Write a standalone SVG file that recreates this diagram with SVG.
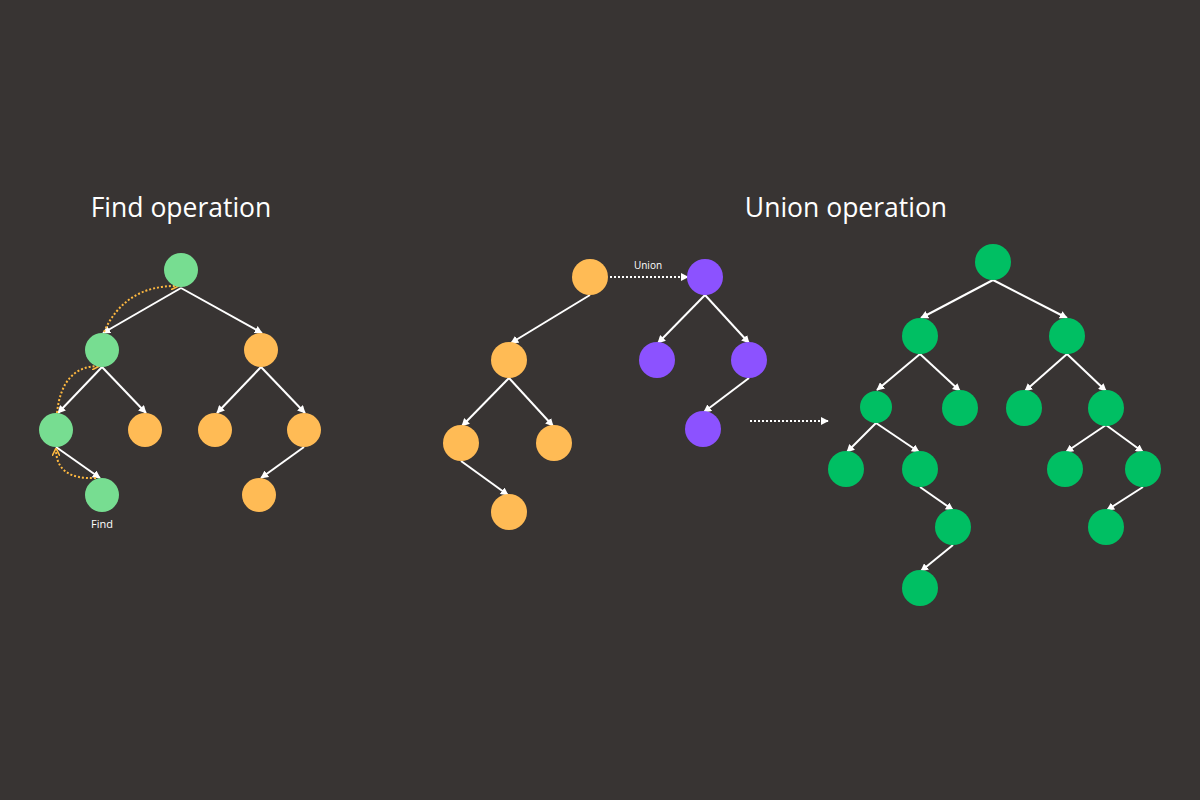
<svg xmlns="http://www.w3.org/2000/svg" width="1200" height="800" viewBox="0 0 1200 800">
<style>
.t{font-family:"Open Sans","Liberation Sans",sans-serif;fill:#fff}
.e{stroke:#fff;stroke-width:2;fill:none;marker-end:url(#a)}
.d{stroke:#fff;stroke-width:2;fill:none;stroke-dasharray:2 2;marker-end:url(#a)}
.o{stroke:#FFB940;stroke-width:2;fill:none;stroke-dasharray:2 2;marker-end:url(#ao)}
.lg{fill:#77DD91}.or{fill:#FFBB55}.pu{fill:#8C52FF}.gr{fill:#00BF63}
</style>
<defs>
<marker id="a" viewBox="0 0 10 10" refX="9" refY="5" markerWidth="4" markerHeight="4" orient="auto"><path d="M0 0L10 5L0 10z" fill="#fff"/></marker>
<marker id="ao" viewBox="0 0 10 10" refX="9" refY="5" markerWidth="4" markerHeight="4" orient="auto"><path d="M0 0L10 5L0 10" fill="none" stroke="#FFB940" stroke-width="2"/></marker>
</defs>
<rect width="1200" height="800" fill="#383433"/>
<text class="t" x="181" y="217" font-size="26.5" text-anchor="middle">Find operation</text>
<text class="t" x="846" y="217" font-size="26.5" text-anchor="middle">Union operation</text>
<g id="connectors">
<path class="e" d="M181 288L103 333"/><path class="e" d="M181 288L262 333"/>
<path class="e" d="M102 367L58 413"/><path class="e" d="M102 367L146 413"/>
<path class="e" d="M261 367L217 413"/><path class="e" d="M261 367L305 413"/>
<path class="e" d="M56 447L100 478"/><path class="e" d="M304 447L261 478"/>
<path class="o" d="M96 478Q56 480 56 449"/>
<path class="o" d="M57 413Q62 366 99 366"/>
<path class="o" d="M104 332Q125 285 178 286"/>
<path class="e" d="M590 295L511 343"/><path class="e" d="M509 378L462 426"/><path class="e" d="M509 378L553 426"/><path class="e" d="M461 461L508 495"/>
<path class="e" d="M705 295L658 343"/><path class="e" d="M705 295L749 343"/><path class="e" d="M749 378L704 412"/>
<path class="d" d="M610 277L688 277"/><path class="d" d="M750 421L828 421"/>
<path class="e" d="M993 280L921 318"/><path class="e" d="M993 280L1067 318"/>
<path class="e" d="M920 354L877 390"/><path class="e" d="M920 354L960 391"/>
<path class="e" d="M1067 354L1025 391"/><path class="e" d="M1067 354L1106 391"/>
<path class="e" d="M876 423L847 452"/><path class="e" d="M876 423L919 452"/>
<path class="e" d="M1106 425L1066 452"/><path class="e" d="M1106 425L1143 452"/>
<path class="e" d="M920 487L953 510"/><path class="e" d="M953 545L921 571"/><path class="e" d="M1143 487L1107 510"/>
</g>
<text class="t" x="648" y="269" font-size="10" text-anchor="middle">Union</text>
<text class="t" x="102" y="528" font-size="11" text-anchor="middle">Find</text>
<g id="find-nodes">
<circle id="f1" class="lg" cx="181" cy="270" r="17"/>
<circle id="f2" class="lg" cx="102" cy="350" r="17"/>
<circle id="f3" class="or" cx="261" cy="350" r="17"/>
<circle id="f4" class="lg" cx="56" cy="430" r="17"/>
<circle id="f5" class="or" cx="145" cy="430" r="17"/>
<circle id="f6" class="or" cx="215" cy="430" r="17"/>
<circle id="f7" class="or" cx="304" cy="430" r="17"/>
<circle id="f8" class="lg" cx="102" cy="495" r="17"/>
<circle id="f9" class="or" cx="259" cy="495" r="17"/>
</g>
<g id="union-nodes">
<circle id="u1" class="or" cx="590" cy="277" r="18"/>
<circle id="u2" class="or" cx="509" cy="360" r="18"/>
<circle id="u3" class="or" cx="461" cy="443" r="18"/>
<circle id="u4" class="or" cx="554" cy="443" r="18"/>
<circle id="u5" class="or" cx="509" cy="512" r="18"/>
<circle id="p1" class="pu" cx="705" cy="277" r="18"/>
<circle id="p2" class="pu" cx="657" cy="360" r="18"/>
<circle id="p3" class="pu" cx="749" cy="360" r="18"/>
<circle id="p4" class="pu" cx="703" cy="429" r="18"/>
</g>
<g id="result-nodes">
<circle id="g1" class="gr" cx="993" cy="262" r="18"/>
<circle id="g2" class="gr" cx="920" cy="336" r="18"/>
<circle id="g3" class="gr" cx="1067" cy="336" r="18"/>
<circle id="g4" class="gr" cx="876" cy="407" r="16"/>
<circle id="g5" class="gr" cx="960" cy="408" r="18"/>
<circle id="g6" class="gr" cx="1024" cy="408" r="18"/>
<circle id="g7" class="gr" cx="1106" cy="408" r="18"/>
<circle id="g8" class="gr" cx="846" cy="469" r="18"/>
<circle id="g9" class="gr" cx="920" cy="469" r="18"/>
<circle id="g10" class="gr" cx="1065" cy="469" r="18"/>
<circle id="g11" class="gr" cx="1143" cy="469" r="18"/>
<circle id="g12" class="gr" cx="953" cy="527" r="18"/>
<circle id="g13" class="gr" cx="1106" cy="527" r="18"/>
<circle id="g14" class="gr" cx="920" cy="588" r="18"/>
</g>
</svg>
